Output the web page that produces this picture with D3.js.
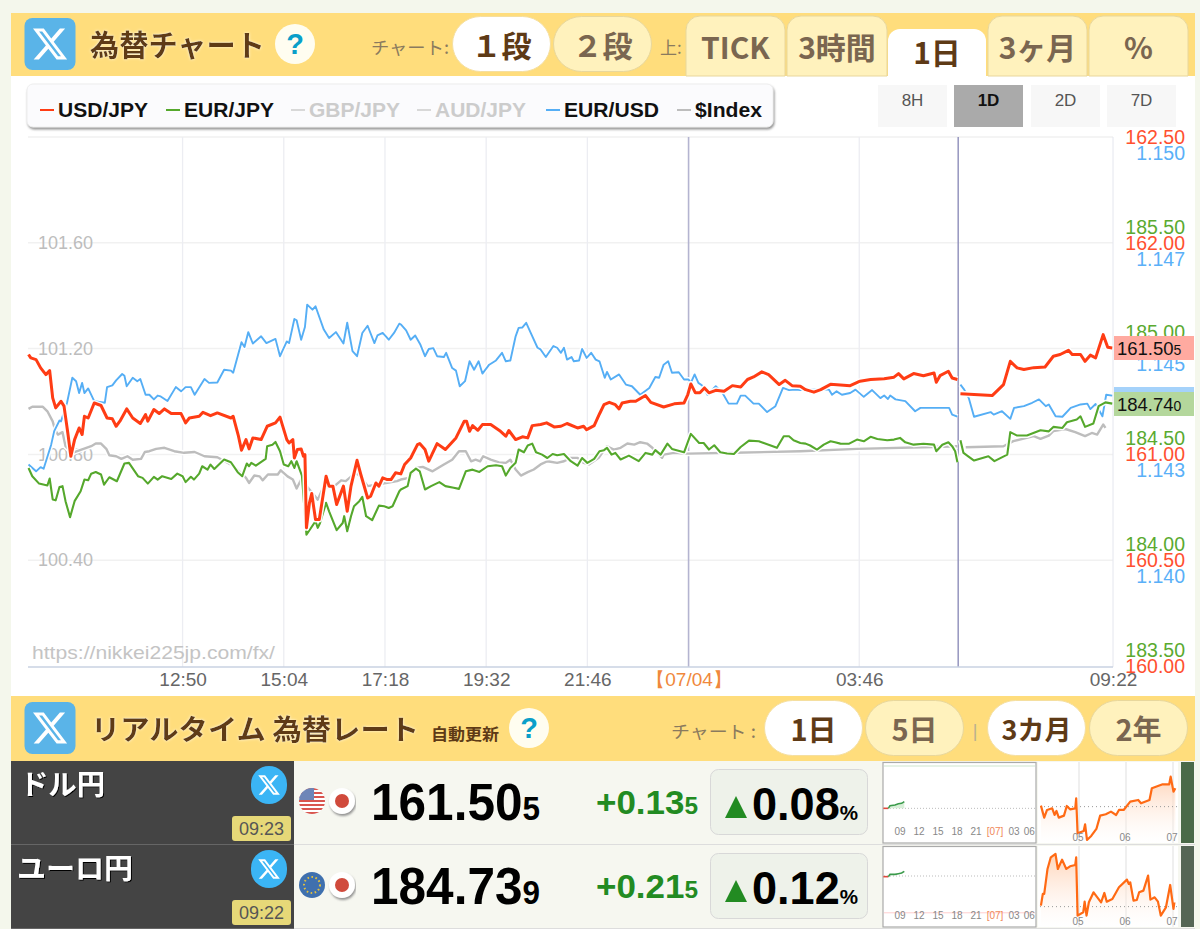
<!DOCTYPE html>
<html lang="ja"><head><meta charset="utf-8">
<script src="https://cdn.jsdelivr.net/npm/d3@7"></script>
<style>
html,body{margin:0;padding:0;background:#f4f7ec;overflow:hidden}
svg{display:block}
text{font-family:"Liberation Sans",Arial,sans-serif}
.jp{font-family:"Noto Sans CJK JP","Liberation Sans",sans-serif}
.axis path,.axis line{display:none}
</style></head><body>
<script>
// ---- chart data: [minutes from 07/04 00:00, rate]; null marks the data break
const usdJpy=[[-874,161.472],[-871,161.456],[-864,161.448],[-858,161.409],[-851,161.377],[-846,161.396],[-842,161.267],[-838,161.22],[-831,161.251],[-827,161.228],[-822,161.102],[-818,160.991],[-813,161.07],[-807,161.125],[-803,161.094],[-800,161.18],[-795,161.172],[-787,161.243],[-778,161.231],[-770,161.172],[-763,161.168],[-758,161.133],[-753,161.157],[-744,161.215],[-736,161.172],[-726,161.146],[-719,161.188],[-716,161.157],[-708,161.212],[-701,161.193],[-694,161.215],[-685,161.193],[-672,161.193],[-666,161.149],[-661,161.172],[-648,161.18],[-643,161.199],[-633,161.183],[-624,161.196],[-606,161.172],[-603,161.18],[-596,161.086],[-592,161.02],[-586,161.07],[-582,161.026],[-577,161.078],[-566,161.07],[-558,161.133],[-547,161.149],[-541,161.176],[-532,161.07],[-529,161.054],[-524,161.07],[-522,160.983],[-518,161.023],[-513,161.026],[-510,160.991],[-508,160.999],[-506,160.653],[-502,160.771],[-499,160.815],[-494,160.692],[-489,160.692],[-480,160.897],[-476,160.85],[-471,160.85],[-466,160.763],[-457,160.85],[-452,160.731],[-447,160.85],[-439,160.972],[-434,160.905],[-425,160.794],[-421,160.802],[-414,160.865],[-410,160.85],[-405,160.889],[-399,160.881],[-394,160.881],[-388,160.913],[-381,160.908],[-376,160.952],[-368,160.983],[-359,161.046],[-356,161.051],[-349,161.023],[-344,160.968],[-333,161.051],[-322,161.023],[-308,161.078],[-297,161.157],[-294,161.157],[-290,161.109],[-286,161.136],[-279,161.114],[-273,161.141],[-262,161.141],[-249,161.109],[-242,161.086],[-238,161.113],[-229,161.07],[-220,161.083],[-213,161.078],[-207,161.136],[-196,161.141],[-188,161.149],[-178,161.13],[-169,161.133],[-161,161.146],[-147,161.125],[-139,161.133],[-135,161.117],[-125,161.136],[-118,161.191],[-112,161.235],[-105,161.246],[-97,161.235],[-92,161.215],[-88,161.243],[-77,161.251],[-70,161.251],[-57,161.278],[-50,161.246],[-33,161.224],[-19,161.239],[-6,161.243],[-1,161.283],[3,161.333],[9,161.291],[15,161.291],[21,161.314],[27,161.291],[36,161.303],[47,161.298],[58,161.325],[69,161.319],[78,161.354],[86,161.366],[97,161.39],[106,161.377],[120,161.33],[128,161.35],[137,161.325],[148,161.322],[155,161.306],[166,161.294],[175,161.306],[188,161.331],[201,161.328],[214,161.325],[227,161.346],[241,161.354],[259,161.358],[272,161.365],[278,161.382],[285,161.357],[298,161.382],[311,161.372],[325,161.385],[328,161.341],[333,161.372],[344,161.393],[349,161.361],[356,161.354],[358,null],[360,161.287],[378,161.283],[402,161.278],[417,161.33],[426,161.44],[435,161.409],[444,161.401],[457,161.41],[472,161.413],[483,161.464],[492,161.472],[503,161.492],[508,161.472],[519,161.472],[525,161.44],[532,161.469],[539,161.456],[549,161.566],[555,161.506],[561,161.503]];
const eurJpy=[[-874,184.436],[-869,184.397],[-860,184.362],[-849,184.353],[-846,184.386],[-842,184.287],[-838,184.283],[-833,184.346],[-829,184.35],[-825,184.279],[-819,184.203],[-813,184.279],[-805,184.326],[-800,184.381],[-795,184.378],[-791,184.409],[-785,184.417],[-778,184.405],[-774,184.357],[-767,184.392],[-757,184.373],[-747,184.457],[-741,184.46],[-729,184.397],[-723,184.389],[-716,184.362],[-708,184.394],[-703,184.381],[-697,184.397],[-685,184.384],[-677,184.409],[-670,184.397],[-666,184.369],[-659,184.394],[-655,184.381],[-648,184.409],[-644,184.444],[-637,184.428],[-633,184.452],[-628,184.431],[-615,184.476],[-606,184.463],[-597,184.416],[-591,184.397],[-585,184.457],[-582,184.444],[-579,184.46],[-573,184.447],[-560,184.479],[-558,184.539],[-551,184.546],[-547,184.559],[-541,184.515],[-536,184.452],[-530,184.444],[-526,184.468],[-522,184.436],[-519,184.468],[-512,184.4],[-506,184.121],[-494,184.184],[-491,184.153],[-488,184.176],[-480,184.271],[-476,184.231],[-466,184.142],[-458,184.176],[-456,184.208],[-452,184.137],[-447,184.208],[-443,184.255],[-436,184.279],[-432,184.299],[-427,184.208],[-419,184.189],[-410,184.258],[-403,184.255],[-397,184.247],[-392,184.255],[-383,184.326],[-381,184.334],[-372,184.35],[-368,184.413],[-361,184.433],[-356,184.42],[-349,184.334],[-341,184.35],[-330,184.369],[-322,184.35],[-311,184.342],[-304,184.337],[-295,184.42],[-286,184.428],[-277,184.417],[-266,184.444],[-255,184.449],[-247,184.444],[-242,184.4],[-236,184.436],[-229,184.46],[-225,184.523],[-218,184.51],[-213,184.542],[-207,184.551],[-202,184.51],[-194,184.499],[-187,184.483],[-180,184.502],[-174,184.496],[-165,184.502],[-156,184.468],[-147,184.447],[-141,184.483],[-134,184.46],[-125,184.479],[-118,184.515],[-112,184.52],[-108,184.531],[-102,184.499],[-97,184.507],[-90,184.476],[-79,184.494],[-66,184.468],[-57,184.507],[-48,184.499],[-44,184.52],[-37,184.499],[-28,184.551],[-22,184.526],[-6,184.51],[3,184.597],[14,184.554],[20,184.554],[27,184.523],[34,184.543],[42,184.51],[51,184.504],[60,184.502],[69,184.535],[80,184.565],[93,184.562],[106,184.546],[117,184.531],[126,184.586],[133,184.586],[139,184.567],[148,184.554],[155,184.551],[161,184.542],[170,184.523],[179,184.546],[188,184.562],[194,184.557],[201,184.551],[212,184.55],[223,184.57],[232,184.562],[241,184.583],[250,184.573],[263,184.567],[272,184.57],[280,184.578],[287,184.557],[298,184.546],[311,184.55],[325,184.546],[328,184.515],[336,184.546],[344,184.557],[349,184.539],[353,184.515],[356,184.463],[358,null],[360,184.567],[364,184.507],[378,184.471],[397,184.491],[405,184.468],[422,184.499],[426,184.605],[435,184.589],[448,184.589],[466,184.614],[477,184.609],[483,184.63],[495,184.625],[501,184.652],[514,184.665],[519,184.68],[525,184.63],[536,184.646],[543,184.728],[552,184.746],[561,184.74]];
const eurUsd=[[-874,1.14226],[-864,1.1421],[-858,1.1422],[-854,1.14216],[-844,1.14273],[-840,1.14305],[-833,1.1433],[-831,1.14328],[-823,1.14372],[-816,1.14431],[-811,1.14423],[-807,1.14395],[-803,1.14419],[-800,1.14395],[-795,1.14406],[-787,1.14376],[-773,1.14372],[-770,1.14409],[-763,1.14413],[-758,1.14425],[-750,1.1444],[-747,1.14436],[-744,1.14411],[-736,1.14431],[-730,1.14423],[-726,1.14428],[-719,1.14391],[-714,1.14391],[-708,1.1438],[-703,1.14389],[-699,1.14387],[-690,1.14376],[-679,1.14409],[-672,1.14399],[-666,1.14409],[-659,1.14409],[-654,1.14391],[-641,1.14428],[-635,1.14419],[-624,1.1442],[-615,1.1445],[-606,1.14448],[-603,1.14443],[-592,1.14515],[-588,1.14504],[-583,1.14539],[-577,1.14512],[-566,1.14529],[-559,1.14513],[-547,1.14523],[-541,1.14482],[-532,1.14517],[-529,1.14513],[-522,1.1457],[-519,1.14567],[-513,1.14521],[-508,1.14551],[-505,1.14604],[-498,1.14592],[-494,1.146],[-483,1.14545],[-476,1.14525],[-467,1.14539],[-457,1.14512],[-452,1.14561],[-445,1.14494],[-439,1.14482],[-432,1.14537],[-425,1.14554],[-416,1.14513],[-412,1.14531],[-405,1.14537],[-397,1.14521],[-390,1.14537],[-383,1.14559],[-381,1.14557],[-374,1.14543],[-368,1.14521],[-362,1.14531],[-355,1.14509],[-349,1.14482],[-344,1.14499],[-338,1.14501],[-333,1.14482],[-324,1.1448],[-321,1.1449],[-313,1.14454],[-308,1.14448],[-303,1.14411],[-296,1.14423],[-290,1.1447],[-284,1.1445],[-278,1.1447],[-273,1.14441],[-264,1.14462],[-255,1.14472],[-247,1.1449],[-242,1.1447],[-236,1.14472],[-229,1.14529],[-225,1.14549],[-220,1.1455],[-215,1.14561],[-209,1.14537],[-200,1.14502],[-196,1.14498],[-189,1.1448],[-179,1.14506],[-174,1.14502],[-169,1.1449],[-165,1.14502],[-161,1.14474],[-155,1.1448],[-152,1.1447],[-145,1.14472],[-141,1.14499],[-135,1.14478],[-129,1.1449],[-123,1.14474],[-118,1.1447],[-111,1.14431],[-108,1.14445],[-103,1.14427],[-92,1.14439],[-83,1.14415],[-75,1.14411],[-64,1.14391],[-52,1.14407],[-44,1.14433],[-39,1.14431],[-33,1.14462],[-27,1.1447],[-22,1.14443],[-13,1.14444],[-6,1.14427],[0,1.14427],[3,1.14419],[8,1.14439],[13,1.14419],[18,1.14413],[25,1.14391],[36,1.14411],[45,1.14395],[53,1.1437],[64,1.1437],[69,1.14389],[75,1.14389],[86,1.1437],[93,1.1437],[104,1.1435],[115,1.14364],[125,1.14407],[133,1.14402],[142,1.14403],[148,1.14402],[157,1.14403],[186,1.14403],[190,1.14391],[196,1.14399],[203,1.14391],[214,1.14395],[221,1.14403],[232,1.14386],[243,1.14402],[254,1.14383],[259,1.14389],[264,1.14381],[267,1.14389],[274,1.1438],[287,1.14376],[300,1.14352],[307,1.1436],[325,1.1436],[345,1.1436],[349,1.14344],[356,1.14339],[358,null],[360,1.14415],[365,1.14403],[371,1.14383],[378,1.14339],[400,1.1435],[404,1.14344],[415,1.14352],[426,1.14334],[431,1.1436],[444,1.14364],[455,1.14372],[464,1.1438],[473,1.14364],[477,1.14368],[486,1.1434],[495,1.14339],[506,1.1436],[519,1.14368],[528,1.1437],[532,1.14357],[539,1.14369],[548,1.1434],[553,1.14391],[561,1.14389]];
const dollarIndex=[[-874,100.972],[-869,100.98],[-855,100.98],[-849,100.963],[-842,100.925],[-839,100.894],[-835,100.875],[-829,100.884],[-825,100.831],[-816,100.806],[-791,100.831],[-785,100.841],[-778,100.841],[-771,100.821],[-767,100.797],[-758,100.793],[-751,100.783],[-743,100.793],[-736,100.78],[-725,100.783],[-720,100.809],[-714,100.812],[-705,100.821],[-694,100.825],[-681,100.812],[-668,100.806],[-654,100.809],[-641,100.793],[-624,100.789],[-602,100.755],[-586,100.711],[-582,100.692],[-575,100.72],[-568,100.717],[-564,100.702],[-557,100.724],[-544,100.724],[-540,100.74],[-531,100.717],[-524,100.705],[-519,100.671],[-513,100.705],[-491,100.629],[-485,100.667],[-476,100.68],[-469,100.68],[-460,100.702],[-454,100.699],[-441,100.73],[-434,100.717],[-425,100.68],[-412,100.686],[-386,100.699],[-381,100.705],[-370,100.711],[-361,100.749],[-352,100.753],[-339,100.736],[-324,100.762],[-313,100.78],[-304,100.812],[-295,100.812],[-288,100.774],[-282,100.78],[-276,100.774],[-272,100.793],[-262,100.78],[-251,100.77],[-242,100.768],[-236,100.78],[-229,100.743],[-222,100.72],[-213,100.733],[-205,100.743],[-196,100.762],[-187,100.774],[-174,100.768],[-165,100.774],[-156,100.787],[-147,100.787],[-139,100.768],[-132,100.762],[-119,100.787],[-108,100.831],[-99,100.818],[-90,100.825],[-81,100.841],[-72,100.837],[-64,100.846],[-55,100.841],[-48,100.825],[-35,100.787],[-33,100.799],[-19,100.806],[-6,100.803],[0,100.803],[60,100.806],[148,100.812],[223,100.821],[325,100.828],[356,100.831],[358,null],[367,100.827],[417,100.831],[430,100.85],[457,100.869],[466,100.859],[477,100.871],[483,100.888],[499,100.896],[512,100.884],[525,100.869],[534,100.881],[541,100.875],[549,100.913],[552,100.9]];
const legendNames=["USD/JPY","EUR/JPY","GBP/JPY","AUD/JPY","EUR/USD","$Index"];
const timeTicks=[-670,-536,-402,-268,-134,0,226,562];
const timeLabels=["12:50","15:04","17:18","19:32","21:46","【07/04】","03:46","09:22"];
const breakMinute=357;
const usdTicks=[162.5,162,161,160.5,160];
const eurTicks=[185.5,185,184.5,184,183.5];
const blueTicks=[1.15,1.1475,1.145,1.1425,1.14];
const blueLabels=["1.150","1.147","1.145","1.143","1.140"];
const indexTicks=[101.6,101.2,100.8,100.4];
// Mini charts: [month, relative level] for 3-month panels, [hour, percent] for day panels
const usd3m=[[4.19,113],[4.26,77],[4.32,100],[4.43,105],[4.48,85],[4.52,97],[4.57,77],[4.68,83],[4.74,112],[4.81,102],[4.92,105],[4.94,135],[4.97,30],[5.1,37],[5.13,57],[5.17,10],[5.26,22],[5.37,43],[5.45,83],[5.57,87],[5.68,95],[5.79,85],[5.85,100],[5.95,100],[6.09,125],[6.26,130],[6.32,120],[6.5,130],[6.55,165],[6.78,177],[6.92,177],[6.95,200],[7.01,155],[7.05,165]];
const eur3m=[[4.19,65],[4.23,100],[4.26,100],[4.33,175],[4.4,210],[4.5,220],[4.55,175],[4.64,203],[4.73,175],[4.81,183],[4.92,187],[4.94,210],[4.97,35],[5.09,45],[5.12,77],[5.16,35],[5.21,75],[5.31,105],[5.47,75],[5.54,103],[5.59,77],[5.71,85],[5.85,120],[6.02,143],[6.06,130],[6.09,135],[6.16,80],[6.23,82],[6.28,105],[6.37,110],[6.47,155],[6.52,83],[6.61,90],[6.68,77],[6.74,35],[6.85,60],[6.94,127],[7.01,55],[7.03,75]];
const usdDay=[[6.37,0],[7.16,0],[7.42,.032],[8.21,.04],[8.74,.056],[9.26,.06],[9.68,.08]];
const eurDay=[[6.37,-.016],[7.16,-.016],[7.42,.04],[8.21,.04],[8.74,.056],[9.26,.072],[9.68,.112]];
const dayLabels=["09","12","15","18","21","[07]","03","06"];
const dayHours=[9,12,15,18,21,24,27,29.4];
const monthTicks=[5,6,7];
const monthLabels=["05","06","07"];

const svg=d3.select("body").append("svg").attr("width",1200).attr("height",929).attr("viewBox","0 0 1200 929");
const defs=svg.append("defs");
const glow=defs.append("filter").attr("id","glow").attr("x","-10%").attr("y","-20%").attr("width","120%").attr("height","140%");
glow.append("feDropShadow").attr("dx",0).attr("dy",0).attr("stdDeviation",1.5).attr("flood-color","#fff").attr("flood-opacity",.75);
const shadow=defs.append("filter").attr("id","box").attr("x","-3%").attr("y","-20%").attr("width","106%").attr("height","140%");
shadow.append("feDropShadow").attr("dx",1).attr("dy",2).attr("stdDeviation",1.2).attr("flood-color","#888").attr("flood-opacity",.9);
const textSh=defs.append("filter").attr("id","dark").attr("x","-10%").attr("y","-20%").attr("width","120%").attr("height","140%");
textSh.append("feDropShadow").attr("dx",1).attr("dy",1).attr("stdDeviation",.4).attr("flood-color","#000").attr("flood-opacity",1);
const grad=defs.append("linearGradient").attr("id","orangeFade").attr("x1",0).attr("x2",0).attr("y1",0).attr("y2",1);
grad.append("stop").attr("offset","0%").attr("stop-color","#ffc9a6").attr("stop-opacity",.8);
grad.append("stop").attr("offset","100%").attr("stop-color","#fff").attr("stop-opacity",.2);
const clipUs=defs.append("clipPath").attr("id","flagClip");clipUs.append("circle").attr("cx",0).attr("cy",0).attr("r",13);

const XPATH="M18.244 2.25h3.308l-7.227 8.26 8.502 11.24H16.17l-5.214-6.817L4.99 21.75H1.68l7.73-8.835L1.254 2.25H8.08l4.713 6.231zm-1.161 17.52h1.833L7.084 4.126H5.117z";
function rect(x,y,w,h,fill,opt={}){const r=svg.append("rect").attr("x",x).attr("y",y).attr("width",w).attr("height",h).attr("fill",fill);
  if(opt.r!=null)r.attr("rx",opt.r).attr("ry",opt.ry??opt.r);if(opt.stroke)r.attr("stroke",opt.stroke).attr("stroke-width",opt.sw||1);if(opt.filter)r.attr("filter",opt.filter);return r;}
function txt(x,y,s,size,fill,opt={}){const t=svg.append("text").attr("x",x).attr("y",y).attr("font-size",size).attr("fill",fill).attr("dominant-baseline","central").text(s);
  if(opt.anchor)t.attr("text-anchor",opt.anchor);if(opt.weight)t.attr("font-weight",opt.weight);if(opt.jp)t.attr("class","jp");if(opt.len)t.attr("textLength",opt.len).attr("lengthAdjust","spacingAndGlyphs");if(opt.filter)t.attr("filter",opt.filter);return t;}
// a number with a smaller trailing part, on one shared baseline
function numText(x,base,main,size,small,smallSize,fill,weight,len){
  const t=svg.append("text").attr("x",x).attr("y",base).attr("font-size",size).attr("fill",fill).text(main);
  if(weight)t.attr("font-weight",weight);
  t.append("tspan").attr("font-size",smallSize).text(small);
  if(len)t.attr("textLength",len).attr("lengthAdjust","spacingAndGlyphs");
  return t;}
function xBadge(cx,cy,w,h,r,fill,sz){rect(cx-w/2,cy-h/2,w,h,fill,{r:r});
  svg.append("path").attr("d",XPATH).attr("fill","#fff").attr("transform",`translate(${cx-sz/2},${cy-sz/2}) scale(${sz/24})`);}
function help(cx,cy){svg.append("ellipse").attr("cx",cx).attr("cy",cy).attr("rx",20).attr("ry",20).attr("fill","#fffdf0");
  txt(cx,cy,"?",29,"#0a9fc9",{anchor:"middle",weight:"bold"});}
function pill(x,y,w,h,label,active,size){rect(x+.5,y+.5,w-1,h-1,active?"#fff":"#fff2bd",{r:28,stroke:active?"#f5dfa0":"#e8d79c"});
  txt(x+w/2,y+h/2,label,size||30,active?"#5e3a16":"#7a6650",{anchor:"middle",weight:"bold",jp:true});}

// page panels
rect(11,13,1184,916,"#fff");
rect(11,13,1184,63,"#ffdd7c");
xBadge(50,44,51,52,8,"#5ab4e8",38);
txt(90,43,"為替チャート",29.5,"#5e3a16",{weight:"bold",jp:true,len:175,filter:"url(#glow)"});
help(295,44);
txt(371,46,"チャート:",17.5,"#8a7a5e",{jp:true,len:78});
pill(452,16,99,56,"１段",true,30);
pill(553,16,99,56,"２段",false,30);
txt(660,46,"上:",17,"#8a7a5e",{jp:true});
[[686,99,"TICK"],[787,100,"3時間"],[988,99,"3ヶ月"],[1089,99,"%"]].forEach(d=>{
  svg.append("path").attr("d",`M${d[0]},76V30a14,14 0 0 1 14,-14H${d[0]+d[1]-14}a14,14 0 0 1 14,14V76Z`).attr("fill","#fff2bd").attr("stroke","#e8d79c");
  txt(d[0]+d[1]/2,46,d[2],30,"#7a6650",{anchor:"middle",weight:"bold",jp:true});});
svg.append("path").attr("d","M888,76V41a12,12 0 0 1 12,-12H974a12,12 0 0 1 12,12V76Z").attr("fill","#fff");
txt(937,51,"1日",30,"#5e3a16",{anchor:"middle",weight:"bold",jp:true});

// legend
rect(27,84,746,43,"#fbfbfd",{r:6,stroke:"#eee",filter:"url(#box)"});
const legendColors=["#ff3c14","#55a82c","#d8d8d8","#d8d8d8","#55aef5","#bdbdbd"];
const legendInk=["#111","#111","#ccc","#ccc","#111","#111"];
const legendLine=[40,166,291,417,546,677];
const legendWidth=[90,90,91,91,95,67];
legendNames.forEach((n,i)=>{
  svg.append("line").attr("x1",legendLine[i]).attr("x2",legendLine[i]+14).attr("y1",110).attr("y2",110).attr("stroke",legendColors[i]).attr("stroke-width",2);
  txt(legendLine[i]+18,110,n,19.5,legendInk[i],{weight:"bold",len:legendWidth[i]});});
[[878,"8H",0],[954,"1D",1],[1031,"2D",0],[1107,"7D",0]].forEach(d=>{
  rect(d[0],85,69,42,d[2]?"#aaa":"#f7f7f7");
  txt(d[0]+34.5,100,d[1],17,d[2]?"#111":"#555",{anchor:"middle",weight:d[2]?"bold":null});});

// scales
const PLOT={l:28,r:1113,t:137,b:667};
const x=d3.scaleLinear().domain([-878,562]).range([25.5,1113]);
const yUsd=d3.scaleLinear().domain([160,162.5]).range([666,137]);
const yEur=d3.scaleLinear().domain([183.5,186]).range([666,137]);
const yBlue=d3.scaleLinear().domain([1.1375,1.15]).range([666,137]);
const yIdx=d3.scaleLinear().domain([100,102]).range([666,137]);

// grid
const grid=svg.append("g");
grid.selectAll("line.h").data(indexTicks.concat([102])).join("line").attr("x1",PLOT.l).attr("x2",PLOT.r).attr("y1",d=>yIdx(d)).attr("y2",d=>yIdx(d)).attr("stroke","#f1f1f1").attr("stroke-width",1.5);
grid.selectAll("line.v").data(timeTicks.filter(d=>d!==0&&d!==562)).join("line").attr("x1",d=>x(d)).attr("x2",d=>x(d)).attr("y1",PLOT.t).attr("y2",PLOT.b).attr("stroke","#ecedf2").attr("stroke-width",1.3);
grid.append("line").attr("x1",PLOT.r).attr("x2",PLOT.r).attr("y1",PLOT.t).attr("y2",PLOT.b).attr("stroke","#e4e6ee");
grid.append("line").attr("x1",x(0)).attr("x2",x(0)).attr("y1",PLOT.t).attr("y2",PLOT.b).attr("stroke","#b4b4d0").attr("stroke-width",1.6);
grid.append("line").attr("x1",x(breakMinute)).attr("x2",x(breakMinute)).attr("y1",PLOT.t).attr("y2",PLOT.b).attr("stroke","#8e8eba").attr("stroke-width",1.4);
grid.append("line").attr("x1",PLOT.l).attr("x2",PLOT.r).attr("y1",PLOT.b).attr("y2",PLOT.b).attr("stroke","#c9d2e2").attr("stroke-width",1.5);

// left labels
svg.append("g").attr("class","axis").attr("transform","translate(38,0)")
 .call(d3.axisRight(yIdx).tickValues(indexTicks).tickSize(0).tickPadding(0).tickFormat(d3.format(".2f")))
 .call(g=>g.selectAll("text").attr("font-size",18).attr("fill","#bdbdbd").attr("font-family","Liberation Sans"));
txt(32,652,"https://nikkei225jp.com/fx/",19,"#c4c4c4",{len:243});

// lines
const seriesDefs=[
 {data:dollarIndex,y:yIdx,color:"#bdbdbd",w:2.4},
 {data:eurUsd,y:yBlue,color:"#55aef5",w:1.9},
 {data:eurJpy,y:yEur,color:"#55a82c",w:2.1},
 {data:usdJpy,y:yUsd,color:"#ff3c14",w:3}];
seriesDefs.forEach(s=>{
  const ln=d3.line().defined(d=>d[1]!==null).x(d=>x(d[0])).y(d=>s.y(d[1]));
  svg.append("path").attr("d",ln(s.data)).attr("fill","none").attr("stroke","#fff").attr("stroke-width",s.w+3).attr("stroke-linejoin","round").attr("stroke-opacity",.95);
  svg.append("path").attr("d",ln(s.data)).attr("fill","none").attr("stroke",s.color).attr("stroke-width",s.w).attr("stroke-linejoin","round");
});

// x axis
svg.append("g").attr("class","axis").attr("transform",`translate(0,${PLOT.b})`)
 .call(d3.axisBottom(x).tickValues(timeTicks).tickSize(0).tickPadding(6).tickFormat((d,i)=>timeLabels[i]))
 .call(g=>g.selectAll("text").attr("font-size",19).attr("fill",(d)=>d===0?"#f0883c":"#666").attr("font-family",'"Liberation Sans","Noto Sans CJK JP",sans-serif'));

// right axes
function rightAxis(scale,ticks,fmt,color,dy){
  svg.append("g").attr("class","axis").attr("transform",`translate(1185,${dy})`)
   .call(d3.axisLeft(scale).tickValues(ticks).tickSize(0).tickPadding(0).tickFormat(fmt))
   .call(g=>g.selectAll("text").attr("font-size",19.5).attr("fill",color).attr("font-family","Liberation Sans"));}
rightAxis(yEur,eurTicks,d3.format(".2f"),"#5aaa30",-16);
rightAxis(yUsd,usdTicks,d3.format(".2f"),"#ff5030",0);
rightAxis(yBlue,blueTicks,(d,i)=>blueLabels[i],"#5ab0f8",16);
// value tags
function tag(y0,fill,main,small){rect(1114,y0,80,24,fill);
  numText(1117,y0+18.5,main,18.5,small,14,"#111",null,null);}
rect(1114,387,80,8,"#a5d2fa");
tag(336,"#ffaaa0","161.50","5");
tag(392,"#b4d79c","184.74","0");

// second header
rect(11,696,1184,65,"#ffdd7c");
xBadge(50,728,51,52,8,"#5ab4e8",38);
txt(91,728,"リアルタイム 為替レート",28,"#5e3a16",{weight:"bold",jp:true,len:328,filter:"url(#glow)"});
txt(431,733,"自動更新",16,"#5e3a16",{weight:"bold",jp:true,len:68});
help(529,728);
txt(671,730,"チャート :",17.5,"#8a7a5e",{jp:true,len:85});
pill(764,700,99,56,"1日",true,29);
pill(865,700,99,56,"5日",false,29);
txt(975,731,"|",18,"#b8b090",{anchor:"middle"});
pill(987,700,99,56,"3カ月",true,27);
pill(1089,700,99,56,"2年",false,29);

// rows
const rows=[
 {top:761,name:"ドル円",nx:20,nw:85,time:"09:23",price:"161.50",ps:"5",chg:"+0.13",cs:"5",pct:"0.08",flag:"us",m:usd3m,d:usdDay,base3:110,dbase:808.33,dk:250/3,bar:"#4a6a48"},
 {top:845,name:"ユーロ円",nx:17,nw:116,time:"09:22",price:"184.73",ps:"9",chg:"+0.21",cs:"5",pct:"0.12",flag:"eu",m:eur3m,d:eurDay,base3:62,dbase:876,dk:125/3,bar:"#556655"}];
const mx=d3.scaleLinear().domain([5,7]).range([1079,1173]);
const hx=d3.scaleLinear().domain([9,27]).range([900,1014]);
rows.forEach((r,ri)=>{
  const T=r.top;
  rect(294,T,901,83,"#f6f7f0");
  rect(11,T,283,83,"#444");
  rect(294,T+83,901,1,"#ddd");
  rect(11,T+83,283,1,"#666");
  txt(r.nx,T+22,r.name,28,"#fff",{weight:"bold",jp:true,len:r.nw,filter:"url(#dark)"});
  xBadge(269,T+24,36,38,18,"#3bb5f5",24);
  rect(232,T+55,59,25,"#e6d878",{r:3});
  txt(261.5,T+68,r.time,18,"#555",{anchor:"middle"});
  // flags
  const f=svg.append("g").attr("transform",`translate(312,${T+40})`);
  if(r.flag==="us"){
    const g=f.append("g").attr("clip-path","url(#flagClip)");
    g.append("rect").attr("x",-13).attr("y",-13).attr("width",26).attr("height",26).attr("fill","#fff");
    d3.range(7).forEach(k=>g.append("rect").attr("x",-13).attr("y",-13+k*4).attr("width",26).attr("height",2).attr("fill","#d9564f"));
    g.append("rect").attr("x",-13).attr("y",-13).attr("width",15).attr("height",12).attr("fill","#6d86b8");
  }else{
    f.append("circle").attr("r",13).attr("fill","#3f70ae");
    f.append("circle").attr("r",8).attr("fill","none").attr("stroke","#e0c040").attr("stroke-width",2).attr("stroke-dasharray","1.6 2.5");
  }
  svg.append("circle").attr("cx",342).attr("cy",T+40).attr("r",13).attr("fill","#fff").attr("filter","url(#box)");
  svg.append("circle").attr("cx",342).attr("cy",T+40).attr("r",7).attr("fill","#d04a3c");
  // price, change and percent, each a main part with a smaller tail
  numText(371,T+59,r.price,52,r.ps,33,"#000","bold",169);
  numText(596,T+53,r.chg,33,r.cs,23,"#228b22","bold",102);
  rect(710.5,T+8.5,157,65,"#eef2ea",{r:8,stroke:"#d8d8d8"});
  svg.append("path").attr("d",`M725,${T+57}L736,${T+35}L747,${T+57}Z`).attr("fill","#228b22");
  numText(752,T+59,r.pct,46,"%",21,"#000","bold",106);
  // day mini chart
  rect(883,T+1.5,153,80.5,"#fff",{stroke:"#aaa",sw:1.2});
  if(ri===0) rect(884,T+4,151,2,"#e6f2e6");
  else rect(884,T+67,151,1.4,"#ffdcdc");
  svg.append("line").attr("x1",884).attr("x2",1035).attr("y1",r.dbase).attr("y2",r.dbase).attr("stroke","#bbb").attr("stroke-dasharray","1 2");
  const dy=d3.scaleLinear().domain([0,1]).range([r.dbase,r.dbase-r.dk]);
  const dl=d3.line().x(d=>hx(d[0])).y(d=>dy(d[1]));
  svg.append("path").attr("d",dl(r.d.slice(0,2))).attr("fill","none").attr("stroke","#e04a3c").attr("stroke-width",1.6);
  if(ri===0) svg.append("path").attr("d",d3.area().x(d=>hx(d[0])).y0(r.dbase).y1(d=>dy(d[1]))(r.d.slice(1))).attr("fill","#d8efd8");
  svg.append("path").attr("d",dl(r.d.slice(1))).attr("fill","none").attr("stroke","#3a9a4a").attr("stroke-width",1.6);
  dayLabels.forEach((l,i)=>txt(hx(dayHours[i]),T+70,l,10,i===5?"#f0885a":"#888",{anchor:"middle"}));
  // 3-month mini chart
  rect(1038,T+1,140,81,"#fff");
  const base=T+82.3;
  const my=d3.scaleLinear().domain([0,243]).range([base,base-81]);
  svg.append("g").selectAll("line").data(monthTicks).join("line").attr("x1",d=>mx(d)).attr("x2",d=>mx(d)).attr("y1",T+1).attr("y2",T+82).attr("stroke","#e8e8e8").attr("stroke-width",1.4);
  svg.append("path").attr("d",d3.area().x(d=>mx(d[0])).y0(base).y1(d=>my(d[1]))(r.m)).attr("fill","url(#orangeFade)");
  svg.append("line").attr("x1",1040).attr("x2",1177).attr("y1",my(r.base3)).attr("y2",my(r.base3)).attr("stroke","#999").attr("stroke-dasharray","1 3");
  svg.append("path").attr("d",d3.line().x(d=>mx(d[0])).y(d=>my(d[1]))(r.m)).attr("fill","none").attr("stroke","#ff6a14").attr("stroke-width",2.2).attr("stroke-linejoin","round");
  monthTicks.forEach((m,i)=>txt(mx(m)-1,T+76,monthLabels[i],10,"#888",{anchor:"middle"}));
  rect(1181,T+1,13,81,r.bar);
});
</script>
</body></html>
